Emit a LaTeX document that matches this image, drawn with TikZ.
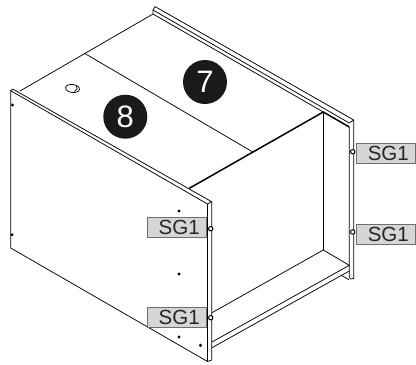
\documentclass[tikz,border=0pt]{standalone}
\usepackage{fontspec}
\setmainfont{Liberation Sans}
\definecolor{tagGray}{RGB}{214, 214, 214}
\definecolor{tagEdge}{RGB}{110, 110, 110}
\definecolor{badgeBlack}{RGB}{26, 26, 26}
\tikzset{
    % Line Styles
    edgeLine/.style={draw=black, line width=0.75pt, line join=round},
    heavyLine/.style={draw=black, line width=1.5pt},
    % Label Styles
    tagBox/.style={
        rectangle,
        minimum width=59bp,
        minimum height=20bp,
        inner sep=0pt,
        fill=tagGray,
        draw=tagEdge,
        line width=1pt,
        text=black!85,
        font=\fontsize{20.5bp}{22bp}\selectfont,
        execute at begin node=\hspace*{5bp}
    },
    badge/.style={
        circle,
        minimum size=44bp,
        inner sep=0pt,
        fill=badgeBlack,
        text=white,
        font=\fontsize{31bp}{32bp}\selectfont
    },
    rivet/.style={draw=black, line width=1pt, fill=white},
    pin/.style={fill=black}
}
\begin{document}
\begin{tikzpicture}[x=1bp, y=-1bp]
    \useasboundingbox (0,0) rectangle (416,365);

    % --- TOP PANEL ---
    \draw [edgeLine] (20,91) -- (153,14);
    \draw [edgeLine] (84,53) -- (252.3,151.7);
    \draw [edgeLine, rotate around={-8:(72.5,88.5)}] (72.5,88.5) ellipse (7 and 4);
    \draw [edgeLine] (74.5,91.5) .. controls (77,90) and (78,88) .. (76.5,85.5);

    % --- BACK FLANGE ---
    \draw [edgeLine] (153,14) -- (153,10) -- (155,6.5) -- (353.7,120) -- (353.7,278.5)
        -- (350.5,279) -- (349.3,277) -- (349.3,127);
    \draw [edgeLine] (153,10) -- (349.3,123);
    \draw [edgeLine] (349.3,123) -- (353.7,120);
    \draw [edgeLine] (153,14) -- (323.3,112);

    % --- INSIDE OF THE FRAME ---
    \draw [heavyLine] (189.3,188.3) -- (323.3,112) -- (349.3,127);
    \draw [edgeLine] (323.3,112) -- (323.3,250);
    \draw [edgeLine] (212,312.7) -- (323.3,250) -- (349.3,265.3);
    \draw [edgeLine] (212,342) -- (349.3,265.3);
    \draw [edgeLine] (212,347.7) -- (349.3,271);
    \draw [edgeLine] (341.3,275.3) -- (349,279.7);

    % --- FRONT PANEL ---
    \draw [edgeLine] (12.7,89) -- (10.7,90.7) -- (10.7,248) -- (207.5,361.5)
        -- (207.5,204) -- (10.7,90.7);
    \draw [edgeLine] (12.7,89) -- (211.7,201.7) -- (207.5,204);
    \draw [edgeLine] (211.7,201.7) -- (211.7,360) -- (207.5,361.5);

    % --- Pins & Rivets ---
    \foreach \px/\py in {12.5/105, 12/234.7, 179/211, 179/274, 179/337, 200.5/345.3}
        \fill [pin] (\px,\py) circle (1.7);
    \foreach \px/\py in {352.7/151.7, 352.7/232, 210.7/228.7, 210.7/317.7}
        \draw [rivet] (\px,\py) circle (2.2);

    % --- Badges ---
    \node (badge7) [badge] at (205,82) {7};
    \node (badge8) [badge] at (125.3,116.7) {8};

    % --- SG1 Tags ---
    \node (tagA) [tagBox] at (385.8,153.7) {SG1};
    \node (tagB) [tagBox] at (385.8,234.7) {SG1};
    \node (tagC) [tagBox] at (176.7,227.7) {SG1};
    \node (tagD) [tagBox] at (176.7,317.7) {SG1};
\end{tikzpicture}
\end{document}
